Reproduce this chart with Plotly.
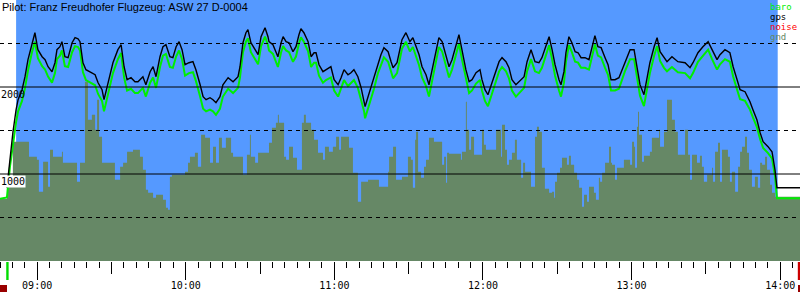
import plotly.graph_objects as go

# ---------------- data ----------------
title_text = "Pilot: Franz Freudhofer Flugzeug: ASW 27 D-0004"

# time axis in minutes since midnight
x_start, x_end = 525.0, 848.0
flight_start, flight_end = 531.5, 839.0
takeoff_mark, landing_mark = 528.0, 847.6

hour_ticks = [540, 600, 660, 720, 780, 840]
hour_labels = ["09:00", "10:00", "11:00", "12:00", "13:00", "14:00"]
half_ticks = [570, 630, 690, 750, 810]

alt_solid = [1000, 2000]
alt_dash = [500, 1500, 2500]
alt_labels = ["1000", "2000"]

legend_names = ["baro", "gps", "noise", "gnd"]
legend_colors = ["#00ee00", "#000000", "#ff0000", "#668866"]

track_t = [525.0,
    527.8, 529.0, 530.2, 531.5, 532.3, 533.9, 535.1, 536.3, 537.9, 539.1,
    540.3, 542.0, 543.2, 544.4, 546.0, 547.2, 548.0, 549.2, 550.0, 551.2,
    552.5, 554.1, 555.3, 556.5, 557.3, 558.5, 559.7, 561.3, 563.4, 564.6,
    566.2, 567.0, 568.6, 570.6, 572.6, 573.9, 575.1, 576.3, 577.9, 579.5,
    580.7, 582.7, 583.9, 585.6, 586.8, 588.0, 589.6, 590.8, 592.0, 593.6,
    594.8, 596.1, 597.3, 598.5, 599.7, 601.3, 602.9, 604.1, 605.8, 607.0,
    608.2, 609.8, 611.0, 612.2, 613.8, 615.0, 617.1, 619.1, 621.1, 621.9,
    623.1, 624.3, 625.1, 626.3, 628.0, 629.2, 630.4, 632.0, 633.2, 633.6,
    635.2, 636.4, 637.2, 638.5, 639.3, 640.5, 641.7, 643.3, 644.5, 645.7,
    646.5, 647.7, 649.4, 650.6, 651.8, 652.6, 653.8, 655.4, 656.6, 658.6,
    659.9, 661.5, 662.7, 663.9, 665.5, 666.7, 667.9, 669.5, 670.8, 672.0,
    672.4, 673.6, 674.8, 676.0, 677.6, 678.8, 680.0, 681.7, 682.9, 683.7,
    685.3, 687.3, 688.9, 690.5, 691.7, 693.0, 694.2, 695.4, 697.0, 698.2,
    699.4, 701.0, 702.2, 703.5, 705.1, 706.3, 707.5, 709.1, 710.3, 711.5,
    713.1, 714.4, 715.6, 717.2, 718.8, 719.6, 720.8, 722.0, 723.6, 725.3,
    726.5, 727.7, 729.3, 730.5, 731.7, 733.3, 735.4, 736.6, 737.8, 739.4,
    741.0, 742.6, 743.8, 745.0, 746.7, 747.9, 749.1, 750.7, 751.5, 752.7,
    753.5, 754.7, 755.9, 757.2, 758.4, 759.6, 761.2, 762.8, 764.0, 765.2,
    766.4, 767.7, 769.3, 770.5, 771.7, 773.3, 774.9, 776.1, 777.3, 779.4,
    781.0, 782.2, 783.4, 785.0, 786.2, 787.4, 789.1, 790.3, 791.5, 793.1,
    794.3, 796.3, 798.7, 801.6, 803.6, 804.8, 806.8, 808.8, 810.9, 812.5,
    814.5, 815.7, 817.7, 819.7, 821.0, 822.6, 823.8, 825.8, 827.8, 829.0,
    830.6, 831.9, 833.1, 835.1, 836.7, 837.9, 838.7, 848.0]

gps_alt = [None,
    842, 1199, 1475, 1739, 1854, 1969, 2118, 2314, 2509, 2624,
    2429, 2348, 2314, 2233, 2176, 2279, 2429, 2463, 2521, 2348,
    2337, 2509, 2567, 2555, 2521, 2279, 2199, 2176, 2141, 2049,
    1969, 1854, 2049, 2279, 2429, 2486, 2233, 2084, 2107, 2061,
    2061, 2118, 2026, 2176, 2233, 2118, 2348, 2463, 2486, 2348,
    2337, 2463, 2521, 2429, 2256, 2279, 2291, 2199, 2026, 1888,
    1854, 1877, 1854, 1819, 1888, 2026, 2107, 2061, 2118, 2233,
    2509, 2624, 2659, 2509, 2429, 2371, 2578, 2681, 2578, 2521,
    2486, 2394, 2348, 2509, 2578, 2521, 2509, 2406, 2463, 2601,
    2670, 2624, 2521, 2348, 2394, 2394, 2256, 2176, 2199, 2233,
    2084, 2026, 2107, 2199, 2141, 2164, 2199, 2118, 1992, 1854,
    1774, 1888, 2003, 2107, 2279, 2371, 2452, 2406, 2291, 2222,
    2279, 2544, 2624, 2521, 2567, 2452, 2371, 2233, 2141, 2026,
    2199, 2429, 2567, 2521, 2348, 2233, 2314, 2486, 2601, 2429,
    2199, 2061, 2084, 2164, 2199, 2084, 1969, 1911, 2049, 2199,
    2291, 2337, 2291, 2222, 2084, 2026, 2084, 2118, 2291, 2429,
    2291, 2279, 2337, 2429, 2578, 2429, 2256, 2084, 2026, 2176,
    2394, 2578, 2509, 2406, 2394, 2337, 2337, 2314, 2463, 2590,
    2463, 2452, 2337, 2256, 2084, 2084, 2107, 2199, 2291, 2429,
    2429, 2233, 2026, 1911, 2084, 2279, 2463, 2567, 2406, 2337,
    2291, 2348, 2291, 2279, 2222, 2279, 2394, 2463, 2521, 2429,
    2314, 2371, 2429, 2394, 2233, 2084, 1969, 1946, 1831, 1739,
    1624, 1475, 1371, 1314, 1256, 1049, 842, 842]

baro_alt = [716,
    730, 1080, 1340, 1600, 1720, 1840, 1990, 2190, 2400, 2520,
    2330, 2240, 2200, 2120, 2050, 2160, 2320, 2360, 2420, 2240,
    2230, 2400, 2470, 2460, 2420, 2170, 2080, 2050, 2020, 1920,
    1840, 1720, 1920, 2160, 2320, 2390, 2110, 1960, 1980, 1930,
    1930, 1990, 1890, 2050, 2110, 1990, 2230, 2360, 2380, 2230,
    2220, 2350, 2420, 2320, 2130, 2160, 2170, 2070, 1890, 1750,
    1720, 1740, 1720, 1680, 1750, 1890, 1980, 1930, 1990, 2110,
    2400, 2520, 2560, 2400, 2320, 2260, 2470, 2580, 2480, 2420,
    2380, 2280, 2230, 2400, 2470, 2420, 2400, 2290, 2350, 2500,
    2570, 2520, 2410, 2230, 2280, 2280, 2130, 2050, 2080, 2110,
    1960, 1890, 1980, 2080, 2010, 2040, 2080, 1990, 1860, 1720,
    1640, 1750, 1870, 1980, 2160, 2260, 2340, 2290, 2170, 2100,
    2160, 2440, 2520, 2410, 2460, 2340, 2250, 2110, 2010, 1890,
    2070, 2320, 2460, 2410, 2230, 2110, 2200, 2380, 2500, 2320,
    2080, 1930, 1960, 2040, 2080, 1960, 1840, 1780, 1920, 2080,
    2180, 2230, 2180, 2100, 1960, 1890, 1960, 1990, 2180, 2320,
    2180, 2160, 2220, 2320, 2480, 2320, 2130, 1960, 1890, 2050,
    2290, 2480, 2400, 2290, 2280, 2220, 2220, 2200, 2350, 2490,
    2360, 2340, 2220, 2140, 1960, 1960, 1980, 2080, 2180, 2320,
    2320, 2110, 1900, 1780, 1960, 2160, 2360, 2470, 2300, 2220,
    2180, 2230, 2170, 2160, 2100, 2160, 2290, 2360, 2430, 2320,
    2200, 2260, 2320, 2290, 2120, 1970, 1860, 1840, 1740, 1650,
    1540, 1400, 1300, 1240, 1180, 980, 720, 720]

gnd_t = [
    525.0, 527.8, 530.2, 536.7, 539.9, 540.7, 542.4, 544.4, 545.2, 546.4,
    550.0, 550.4, 556.1, 557.3, 559.3, 560.5, 562.1, 563.4, 564.2, 565.0,
    566.2, 571.4, 573.5, 574.7, 576.3, 578.7, 581.5, 582.7, 583.9, 584.8,
    586.8, 588.0, 590.8, 592.0, 592.8, 593.6, 594.4, 599.7, 600.9, 601.7,
    603.7, 604.9, 606.2, 607.8, 609.8, 611.0, 612.2, 613.4, 614.6, 616.2,
    618.3, 619.1, 623.1, 624.7, 625.9, 626.3, 628.0, 629.2, 633.6, 634.8,
    636.4, 637.2, 637.6, 639.7, 640.5, 641.7, 643.3, 644.9, 646.9, 647.7,
    648.5, 650.6, 651.8, 653.4, 655.4, 656.2, 657.8, 659.4, 660.7, 661.9,
    662.7, 665.9, 667.5, 669.5, 670.8, 673.6, 678.0, 681.7, 682.1, 683.7,
    684.9, 687.3, 689.7, 690.9, 691.7, 692.6, 693.0, 693.8, 695.0, 696.2,
    697.0, 698.2, 700.2, 703.5, 704.3, 705.1, 705.5, 706.3, 711.1, 711.5,
    713.1, 713.5, 714.4, 715.2, 716.4, 719.6, 720.4, 721.2, 725.3, 727.3,
    727.7, 728.9, 729.7, 730.5, 731.7, 732.9, 733.7, 735.4, 736.2, 737.0,
    739.4, 741.0, 741.8, 742.6, 743.8, 745.0, 746.7, 747.9, 748.7, 749.1,
    749.9, 751.1, 751.9, 753.9, 754.7, 755.5, 756.8, 758.0, 758.8, 760.0,
    760.8, 762.0, 762.8, 764.8, 765.6, 766.8, 767.3, 768.1, 769.3, 770.9,
    771.7, 772.1, 773.3, 774.1, 776.9, 779.4, 780.2, 781.0, 781.4, 782.2,
    782.6, 783.0, 784.2, 785.0, 787.4, 788.2, 791.1, 791.5, 793.1, 794.3,
    796.3, 797.5, 798.7, 801.6, 802.8, 803.6, 804.4, 806.4, 807.6, 808.4,
    809.2, 810.5, 812.5, 812.9, 813.7, 814.9, 815.7, 816.5, 818.9, 819.7,
    820.5, 821.8, 823.0, 823.8, 824.6, 825.8, 826.6, 827.4, 828.6, 829.8,
    831.0, 831.9, 832.7, 833.9, 834.7, 835.9, 836.7, 837.9, 848.0]

gnd_alt = [
    716, 854, 1371, 1199, 1164, 796, 1141, 854, 1279, 1199,
    1256, 1130, 911, 1130, 2061, 1624, 1682, 1509, 1854, 1429,
    1130, 934, 1084, 1130, 1256, 1279, 1199, 1049, 820, 785,
    727, 762, 705, 613, 589, 969, 992, 1026, 1130, 1199,
    1245, 1084, 1452, 1417, 1130, 1314, 1130, 1417, 1302, 1417,
    1245, 1199, 992, 1222, 1452, 1199, 1130, 1245, 1360, 1533,
    1590, 1682, 1590, 1199, 1164, 1314, 1187, 1049, 1590, 1682,
    1590, 1509, 1394, 1245, 1164, 1314, 1256, 1314, 1429, 1279,
    1429, 1302, 1015, 682, 911, 934, 854, 1026, 1199, 1314,
    934, 969, 1199, 1164, 842, 1394, 1486, 1026, 957, 1084,
    1164, 1417, 1371, 1107, 1199, 900, 1245, 1233, 1164, 1256,
    1831, 1509, 1279, 1429, 1222, 1509, 1337, 1279, 1509, 1199,
    1567, 1279, 1107, 1164, 1245, 1394, 1164, 957, 1130, 1026,
    854, 1429, 1544, 1486, 1072, 831, 785, 796, 727, 911,
    1015, 1072, 1187, 1107, 1210, 1107, 1015, 934, 842, 624,
    762, 682, 854, 785, 705, 957, 911, 1015, 1130, 1314,
    1130, 1107, 934, 1072, 1164, 1107, 1371, 1314, 1072, 1544,
    1716, 1452, 1141, 1210, 1256, 1417, 1509, 1314, 1486, 1854,
    1624, 1486, 1222, 1509, 1222, 934, 1222, 1130, 1210, 1084,
    911, 992, 1072, 911, 1256, 1360, 911, 1279, 1199, 911,
    1026, 796, 1084, 1256, 1314, 1429, 1245, 1049, 854, 969,
    842, 1130, 1107, 1199, 1049, 877, 785, 739, 739]

# ---------------- style ----------------
SKY = "#5599ff"
GND = "#668866"
MONO = "DejaVu Sans Mono"
W, H = 800, 300
PLOT_H = 261

fig = go.Figure()

fig.add_trace(go.Scatter(x=gnd_t, y=gnd_alt, mode="lines", line_shape="hv",
                         line=dict(width=0, color=GND), fill="tozeroy",
                         fillcolor=GND, hoverinfo="skip", showlegend=False))
fig.add_trace(go.Scatter(x=track_t, y=baro_alt, mode="lines",
                         line=dict(color="#00ee00", width=2), showlegend=False))
fig.add_trace(go.Scatter(x=track_t, y=gps_alt, mode="lines",
                         line=dict(color="#000000", width=1.4), showlegend=False))
# carrier for the hour (long) tick axis
fig.add_trace(go.Scatter(x=[x_start, x_end], y=[0, 0], xaxis="x2", mode="lines",
                         line=dict(width=0), opacity=0, hoverinfo="skip",
                         showlegend=False))

shapes = []
shapes.append(dict(type="rect", xref="x", yref="y", x0=flight_start, x1=flight_end,
                   y0=0, y1=3000, fillcolor=SKY, line=dict(width=0), layer="below"))
for v in alt_solid:
    shapes.append(dict(type="line", xref="paper", yref="y", x0=0, x1=1, y0=v, y1=v,
                       line=dict(color="black", width=1), layer="above"))
for v in alt_dash:
    shapes.append(dict(type="line", xref="paper", yref="y", x0=0, x1=1, y0=v, y1=v,
                       line=dict(color="black", width=1, dash="4px,4px"), layer="above"))


def px_x(t):
    return (t - x_start) / (x_end - x_start)


def py(p):
    return (PLOT_H - p) / PLOT_H


# takeoff / landing markers below the axis
shapes.append(dict(type="rect", xref="paper", yref="paper",
                   x0=px_x(takeoff_mark) - 1.2 / W, x1=px_x(takeoff_mark) + 1.2 / W,
                   y0=py(280), y1=py(262), fillcolor="#00dd00", line=dict(width=0)))
shapes.append(dict(type="rect", xref="paper", yref="paper",
                   x0=px_x(landing_mark) - 1.2 / W, x1=px_x(landing_mark) + 1.2 / W,
                   y0=py(280), y1=py(262), fillcolor="#cc0000", line=dict(width=0)))
shapes.append(dict(type="rect", xref="paper", yref="paper",
                   x0=0, x1=7 / W, y0=py(292), y1=py(285),
                   fillcolor="#990000", line=dict(width=0)))
shapes.append(dict(type="rect", xref="paper", yref="paper",
                   x0=798 / W, x1=1, y0=py(292), y1=py(285),
                   fillcolor="#990000", line=dict(width=0)))

annotations = []
annotations.append(dict(text=title_text, xref="paper", yref="paper", x=0, y=1,
                        xanchor="left", yanchor="top", showarrow=False, yshift=1,
                        font=dict(family="Liberation Sans, Arial", size=11, color="black")))
for i, (name, col) in enumerate(zip(legend_names, legend_colors)):
    annotations.append(dict(text=name, xref="paper", yref="paper", x=769 / W,
                            y=py(7 + 10 * i), xanchor="left", yanchor="middle",
                            showarrow=False, borderpad=0,
                            font=dict(family=MONO, size=9, color=col)))
for v, lab in zip(alt_solid, alt_labels):
    annotations.append(dict(text=lab, xref="paper", yref="y", x=0, y=v,
                            xanchor="left", yanchor="middle", yshift=-7,
                            showarrow=False, borderpad=0,
                            bgcolor="white" if v == 1000 else None,
                            font=dict(family=MONO, size=10, color="black")))

# main axis: half-hour ticks (medium) with labels only on the hours
main_ticks = sorted(hour_ticks + half_ticks)
main_text = [hour_labels[hour_ticks.index(v)] if v in hour_ticks else "" for v in main_ticks]

fig.update_layout(
    width=W, height=H, autosize=False,
    margin=dict(l=0, r=0, t=0, b=H - PLOT_H, pad=0),
    paper_bgcolor="white", plot_bgcolor="white",
    showlegend=False,
    shapes=shapes, annotations=annotations,
    xaxis=dict(range=[x_start, x_end], showgrid=False, zeroline=False, showline=False,
               tickmode="array", tickvals=main_ticks, ticktext=main_text,
               ticks="outside", ticklen=12, tickwidth=1, tickcolor="black",
               ticklabelstandoff=3,
               tickfont=dict(family=MONO, size=10, color="black"),
               minor=dict(ticks="outside", dtick=5, tick0=0, ticklen=6,
                          tickwidth=1, tickcolor="black", showgrid=False),
               fixedrange=True),
    xaxis2=dict(range=[x_start, x_end], overlaying="x", anchor="y", side="bottom",
                showgrid=False, zeroline=False, showline=False,
                tickmode="array", tickvals=hour_ticks, ticks="outside", ticklen=18,
                tickwidth=1, tickcolor="black", showticklabels=False, fixedrange=True),
    yaxis=dict(range=[0, 3000], visible=False, showgrid=False, zeroline=False,
               fixedrange=True),
)

fig.write_html("out.html")
